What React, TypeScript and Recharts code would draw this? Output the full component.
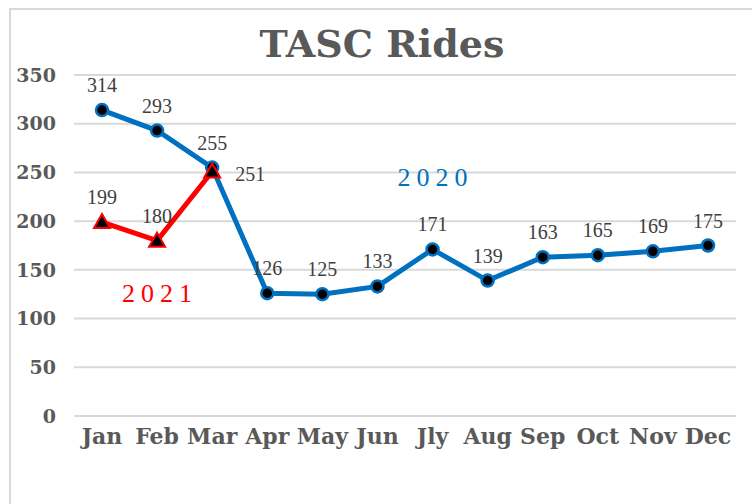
import React from 'react';
import { LineChart, Line, XAxis, YAxis, CartesianGrid, LabelList, ReferenceDot } from 'recharts';

const months = ['Jan', 'Feb', 'Mar', 'Apr', 'May', 'Jun', 'Jly', 'Aug', 'Sep', 'Oct', 'Nov', 'Dec'];
const rides2020 = [314, 293, 255, 126, 125, 133, 171, 139, 163, 165, 169, 175];
const rides2021: (number | null)[] = [199, 180, 251, null, null, null, null, null, null, null, null, null];
const yTicks = [0, 50, 100, 150, 200, 250, 300, 350];

const data = months.map((m, i) => ({ month: m, y2020: rides2020[i], y2021: rides2021[i] }));

const BLUE = '#0070C0';
const RED = '#FF0000';
const LABEL_FONT = '"Liberation Serif", "DejaVu Serif", serif';
const BOLD_FONT = '"DejaVu Serif", "Liberation Serif", serif';

const CircleDot = (props: any) => {
  const { cx, cy, index } = props;
  if (cx == null || cy == null) return <g key={`c${index}`} />;
  return <circle key={`c${index}`} cx={cx} cy={cy} r={6} fill="#000" stroke={BLUE} strokeWidth={2.5} />;
};

const TriDot = (props: any) => {
  const { cx, cy, index, value } = props;
  if (cx == null || cy == null || value == null) return <g key={`t${index}`} />;
  const d = `M${cx},${cy - 8} L${cx + 8},${cy + 6} L${cx - 8},${cy + 6} Z`;
  return <path key={`t${index}`} d={d} fill="#000" stroke={RED} strokeWidth={2} strokeLinejoin="miter" />;
};

const TopLabel = (props: any) => {
  const { x, y, value } = props;
  if (value == null || x == null || y == null) return null;
  return (
    <text x={x} y={y - 18} textAnchor="middle" fill="#404040" fontSize={20} fontFamily={LABEL_FONT}
      style={{ fontVariantNumeric: 'oldstyle-nums' }}>
      {value}
    </text>
  );
};

const Label2021 = (props: any) => {
  const { x, y, value, index } = props;
  if (value == null || x == null || y == null) return null;
  if (index === 2) {
    return (
      <text x={x + 23} y={y + 10} textAnchor="start" fill="#404040" fontSize={20} fontFamily={LABEL_FONT}
        style={{ fontVariantNumeric: 'oldstyle-nums' }}>
        {value}
      </text>
    );
  }
  return <TopLabel {...props} />;
};

const seriesLabel = (text: string, color: string) => (props: any) => {
  const vb = props.viewBox || {};
  const cx = (vb.x ?? 0) + (vb.width ?? 0) / 2;
  const cy = (vb.y ?? 0) + (vb.height ?? 0) / 2;
  return (
    <text x={cx + 3} y={cy + 8} textAnchor="middle" fill={color} fontSize={26} fontFamily={LABEL_FONT}
      letterSpacing={6}>
      {text}
    </text>
  );
};

export default function App() {
  return (
    <div style={{ position: 'absolute', left: 0, top: 0, width: 752, height: 504, overflow: 'hidden', background: '#fff' }}>
      <div style={{
        position: 'absolute', left: 9, top: 8, width: 800, height: 560,
        borderLeft: '2px solid #d9d9d9', borderTop: '2px solid #d9d9d9',
      }} />
      <svg width={752} height={80} style={{ position: 'absolute', left: 0, top: 0 }}>
        <text x={382} y={57} textAnchor="middle" fill="#595959" fontFamily={BOLD_FONT} fontWeight="bold" fontSize={38}>
          TASC Rides
        </text>
      </svg>
      <div style={{ position: 'absolute', left: 0, top: 0 }}>
        <LineChart width={752} height={504} data={data} margin={{ top: 75, right: 16, bottom: 58, left: 0 }}>
          <CartesianGrid vertical={false} stroke="#d9d9d9" strokeWidth={2} />
          <XAxis dataKey="month" axisLine={false} tickLine={false} tickSize={0} tickMargin={12} height={30}
            interval={0} padding={{ left: 28, right: 28 }}
            tick={{ fill: '#595959', fontSize: 22, fontWeight: 'bold', fontFamily: BOLD_FONT }} />
          <YAxis domain={[0, 350]} ticks={yTicks} axisLine={false} tickLine={false} tickSize={0} tickMargin={18} width={74}
            tick={{ fill: '#595959', fontSize: 19, fontWeight: 'bold', fontFamily: BOLD_FONT }} />
          <Line dataKey="y2020" stroke={BLUE} strokeWidth={5} dot={CircleDot} activeDot={false} isAnimationActive={false}>
            <LabelList dataKey="y2020" content={TopLabel} />
          </Line>
          <Line dataKey="y2021" stroke={RED} strokeWidth={5} dot={TriDot} activeDot={false} isAnimationActive={false}>
            <LabelList dataKey="y2021" content={Label2021} />
          </Line>
          <ReferenceDot x="Jly" y={244} r={0} fill="none" stroke="none" label={seriesLabel('2020', BLUE)} />
          <ReferenceDot x="Feb" y={125} r={0} fill="none" stroke="none" label={seriesLabel('2021', RED)} />
        </LineChart>
      </div>
    </div>
  );
}
